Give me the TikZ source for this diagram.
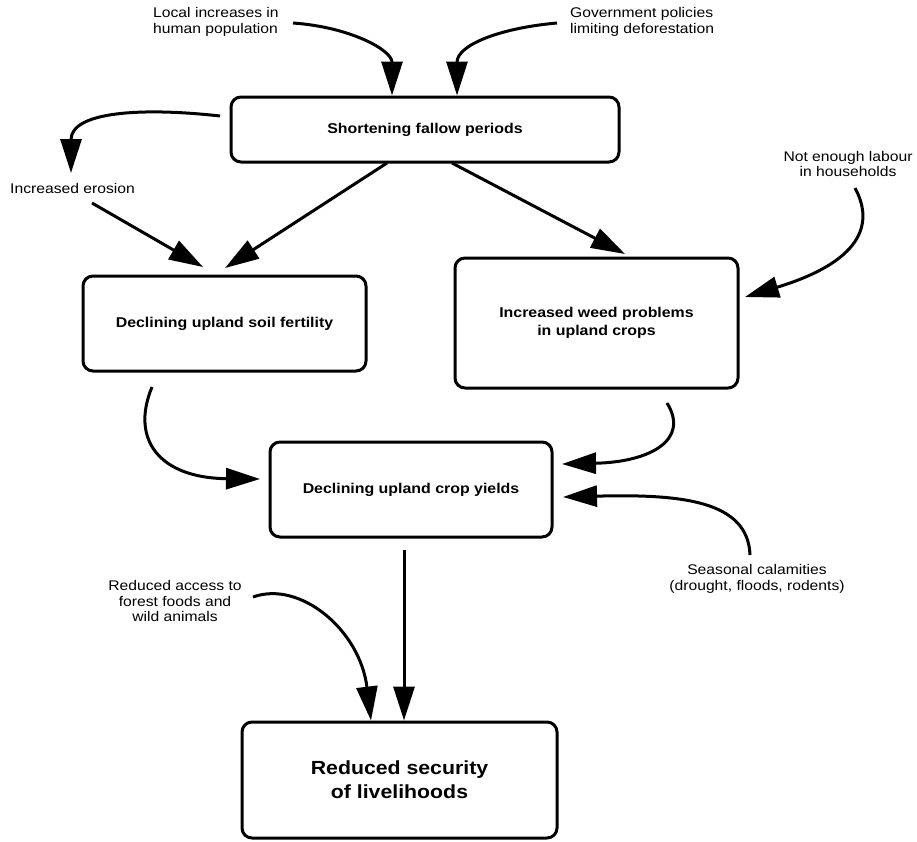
\documentclass[tikz,border=0pt]{standalone}
\usepackage{fontspec}
\setmainfont{Liberation Sans}[FakeStretch=1.12]
\usetikzlibrary{arrows.meta}
\tikzset{
  box/.style={draw, line width=3pt, rounded corners=10pt, align=center, inner sep=0pt},
  boxtext/.style={font=\fontsize{14.2}{18}\selectfont\bfseries},
  bigtext/.style={font=\fontsize{19}{24}\selectfont\bfseries},
  lbl/.style={font=\fontsize{14}{15.5}\selectfont, inner sep=0pt},
  arr/.style={line width=3pt, -{Triangle[length=34pt,width=21pt]}},
}
\begin{document}
\begin{tikzpicture}[x=1pt,y=-1pt]
\useasboundingbox (0,0) rectangle (917,841);
% boxes
\node[box, boxtext, minimum width=388pt, minimum height=65pt] (short) at (425,129.5) {Shortening fallow periods};
\node[box, boxtext, minimum width=283pt, minimum height=95pt] (soil) at (224.5,323.5) {Declining upland soil fertility};
\node[box, boxtext, minimum width=283pt, minimum height=130pt] (weed) at (596.5,323) {Increased weed problems\\in upland crops};
\node[box, boxtext, minimum width=282pt, minimum height=95pt] (yield) at (411,489.5) {Declining upland crop yields};
\node[box, bigtext, minimum width=315pt, minimum height=116pt] (sec) at (399.5,780) {Reduced security\\of livelihoods};
% labels
\node[lbl, align=left, anchor=west] (local) at (153,22) {Local increases in\\human population};
\node[lbl, align=left, anchor=west] (gov) at (570,22) {Government policies\\limiting deforestation};
\node[lbl, anchor=west] (eros) at (10,188) {Increased erosion};
\node[lbl, align=center] (labour) at (848,164) {Not enough labour\\in households};
\node[lbl, align=center] (seas) at (757,579) {Seasonal calamities\\(drought, floods, rodents)};
\node[lbl, align=center] (forest) at (175,601) {Reduced access to\\forest foods and\\wild animals};
% free ends
\coordinate (a1) at (293,23);
\coordinate (a2) at (557,23);
\coordinate (a3) at (220,116);
\coordinate (a4) at (92,203);
\coordinate (a5) at (387,163);
\coordinate (a6) at (452,163);
\coordinate (a7) at (855,188);
\coordinate (a8) at (152,387);
\coordinate (a9) at (667,403);
\coordinate (a10) at (750,555);
\coordinate (a11) at (404,550);
\coordinate (a12) at (253,597);
\coordinate (t3) at (71,173);
% connectors
\draw[arr] (a1) .. controls (350,27) and (392,50) .. (392,0 |- short.north);
\draw[arr] (a2) .. controls (500,28) and (457,45) .. (457,0 |- short.north);
\draw[arr] (a3) .. controls (140,107) and (71,112) .. (t3);
\draw[arr] (a4) -- (203,267);
\draw[arr] (a5) -- (225,268);
\draw[arr] (a6) -- (625,254);
\draw[arr] (a7) .. controls (875,225) and (860,262) .. (745,297);
\draw[arr] (a8) .. controls (130,440) and (160,478) .. (260,479);
\draw[arr] (a9) .. controls (690,440) and (650,462) .. (562,464);
\draw[arr] (a10) .. controls (748,500) and (680,494) .. (563,497);
\draw[arr] (a11) -- (404,0 |- sec.north);
\draw[arr] (a12) .. controls (300,580) and (360,630) .. (371,0 |- sec.north);
\end{tikzpicture}
\end{document}
